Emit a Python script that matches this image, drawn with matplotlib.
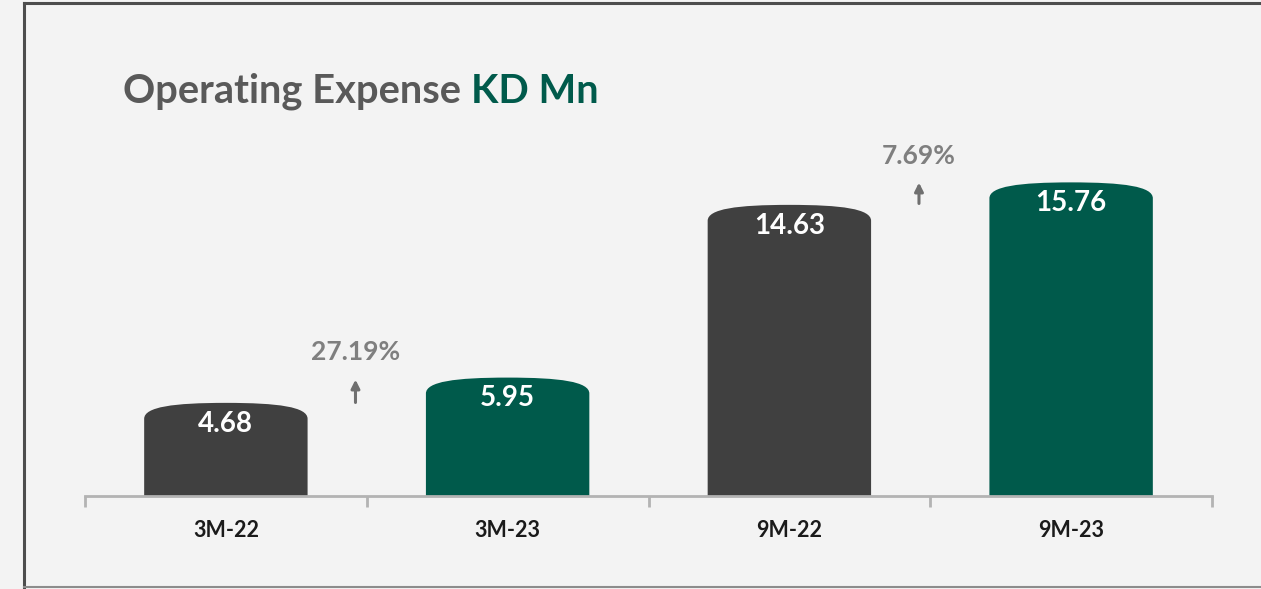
import matplotlib
matplotlib.use("Agg")
import matplotlib.pyplot as plt
from matplotlib.path import Path
from matplotlib.patches import PathPatch
from matplotlib.lines import Line2D

categories = ["3M-22", "3M-23", "9M-22", "9M-23"]
values = [4.68, 5.95, 14.63, 15.76]
value_labels = ["4.68", "5.95", "14.63", "15.76"]
growth_labels = ["27.19%", "7.69%"]
growth_x = [0.46, 2.46]
growth_text_y = [7.25, 17.1]
growth_arrow = [(4.7, 5.85), (14.7, 15.75)]

GRAY = "#404040"
GREEN = "#005a4b"
bar_colors = [GRAY, GREEN, GRAY, GREEN]
BG = "#f3f3f3"
FONT = "Lato"

fig = plt.figure(figsize=(12.61, 5.89), dpi=100)
fig.patch.set_facecolor(BG)

# frame lines
fig.add_artist(Line2D([24/1261, 24/1261], [0, 1 - 3/589], color="#4d4d4d", lw=2.2))
fig.add_artist(Line2D([24/1261, 1], [1 - 3/589, 1 - 3/589], color="#4d4d4d", lw=2.2))
fig.add_artist(Line2D([24/1261, 1], [2/589, 2/589], color="#8c8c8c", lw=1.5))

ax = fig.add_axes([85/1261, (589-496)/589, 1127/1261, 396/589])
ax.set_facecolor("none")
ax.set_xlim(-0.5, 3.5)
ax.set_ylim(0, 19.9)

w = 0.58
cap = 0.8
for i, (v, c) in enumerate(zip(values, bar_colors)):
    xl, xr = i - w/2, i + w/2
    verts = [
        (xl, 0), (xl, v - cap),
        (xl, v - cap*0.25), (xl + w*0.18, v), (i, v),
        (xr - w*0.18, v), (xr, v - cap*0.25), (xr, v - cap),
        (xr, 0), (xl, 0),
    ]
    codes = [Path.MOVETO, Path.LINETO,
             Path.CURVE4, Path.CURVE4, Path.CURVE4,
             Path.CURVE4, Path.CURVE4, Path.CURVE4,
             Path.LINETO, Path.CLOSEPOLY]
    ax.add_patch(PathPatch(Path(verts, codes), facecolor=c, edgecolor="none", zorder=2))
    ax.text(i, v - 1.05, value_labels[i], ha="center", va="center", color="white",
            fontsize=20, fontweight="bold", family=FONT, zorder=3)

for lbl, gx, gy, (a0, a1) in zip(growth_labels, growth_x, growth_text_y, growth_arrow):
    ax.text(gx, gy, lbl, ha="center", va="center", color="#7f7f7f",
            fontsize=19, fontweight="bold", family=FONT)
    ax.annotate("", xy=(gx, a1), xytext=(gx, a0),
                arrowprops=dict(arrowstyle="-|>,head_length=0.5,head_width=0.25",
                                color="#6f6f6f", lw=2.2, shrinkA=0, shrinkB=0))

for s in ["top", "right", "left"]:
    ax.spines[s].set_visible(False)
ax.spines["bottom"].set_color("#b3b3b3")
ax.spines["bottom"].set_linewidth(2)
ax.set_yticks([])
ax.set_xticks(range(len(categories)))
ax.set_xticklabels(categories, fontsize=15.5, fontweight="bold", family=FONT, color="#1a1a1a")
ax.tick_params(axis="x", which="major", length=0, pad=17)
ax.set_xticks([-0.5, 0.5, 1.5, 2.5, 3.5], minor=True)
ax.tick_params(axis="x", which="minor", length=8, width=2, color="#b3b3b3")

t1 = fig.text(123/1261, 1 - 103/589, "Operating Expense", fontsize=28.7, fontweight="bold",
              family=FONT, color="#595959", va="baseline", ha="left")
fig.canvas.draw()
bb = t1.get_window_extent()
fig.text((bb.x1 + 10)/1261, 1 - 103/589, "KD Mn", fontsize=28.7, fontweight="bold",
         family=FONT, color=GREEN, va="baseline", ha="left")

fig.savefig("out.png", dpi=100, facecolor=BG)
